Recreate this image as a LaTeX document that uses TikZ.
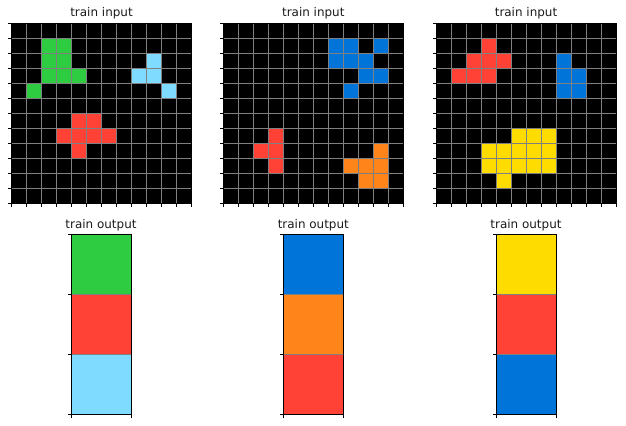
\documentclass[tikz,border=0pt]{standalone}
\usepackage{fontspec}
\setmainfont{DejaVu Sans}
\definecolor{arcblack}{HTML}{000000}
\definecolor{arcblue}{HTML}{0074D9}
\definecolor{arcred}{HTML}{FF4136}
\definecolor{arcgreen}{HTML}{2ECC40}
\definecolor{arcyellow}{HTML}{FFDC00}
\definecolor{arcorange}{HTML}{FF851B}
\definecolor{arcsky}{HTML}{7FDBFF}
\definecolor{gridgray}{HTML}{808080}
\begin{document}
\begin{tikzpicture}[x=1bp, y=-1bp,
            gridline/.style = {draw=gridgray, line width=0.8bp},
            frame/.style = {draw=black, line width=0.8bp},
            tickmark/.style = {draw=black, line width=0.6bp},
            title/.style = {anchor=base, inner sep=0pt, font=\fontsize{12}{14}\selectfont, text=black!90}]

    \useasboundingbox (0,0) rectangle (626,425);

    % the three input grids
    \foreach \ox/\k in {11.5/1, 223.3/2, 436/3} {
        \fill[arcblack] (\ox,23.5) rectangle ++(180,180);
        \node[title] (in\k) at (\ox+90,16.6) {train input};
    }

    % coloured cells, column/row/colour
    \foreach \c/\r/\col in {2/1/arcgreen, 3/1/arcgreen, 2/2/arcgreen, 3/2/arcgreen,
            2/3/arcgreen, 3/3/arcgreen, 4/3/arcgreen, 1/4/arcgreen,
            9/2/arcsky, 8/3/arcsky, 9/3/arcsky, 10/4/arcsky,
            4/6/arcred, 5/6/arcred, 3/7/arcred, 4/7/arcred, 5/7/arcred, 6/7/arcred, 4/8/arcred}
        \fill[\col] (11.5+15*\c,23.5+15*\r) rectangle ++(15,15);

    \foreach \c/\r/\col in {7/1/arcblue, 8/1/arcblue, 10/1/arcblue, 7/2/arcblue, 8/2/arcblue,
            9/2/arcblue, 9/3/arcblue, 10/3/arcblue, 8/4/arcblue,
            3/7/arcred, 2/8/arcred, 3/8/arcred, 3/9/arcred,
            10/8/arcorange, 8/9/arcorange, 9/9/arcorange, 10/9/arcorange, 9/10/arcorange, 10/10/arcorange}
        \fill[\col] (223.3+15*\c,23.5+15*\r) rectangle ++(15,15);

    \foreach \c/\r/\col in {3/1/arcred, 2/2/arcred, 3/2/arcred, 4/2/arcred,
            1/3/arcred, 2/3/arcred, 3/3/arcred,
            8/2/arcblue, 8/3/arcblue, 9/3/arcblue, 8/4/arcblue, 9/4/arcblue,
            5/7/arcyellow, 6/7/arcyellow, 7/7/arcyellow,
            3/8/arcyellow, 4/8/arcyellow, 5/8/arcyellow, 6/8/arcyellow, 7/8/arcyellow,
            3/9/arcyellow, 4/9/arcyellow, 5/9/arcyellow, 6/9/arcyellow, 7/9/arcyellow, 4/10/arcyellow}
        \fill[\col] (436+15*\c,23.5+15*\r) rectangle ++(15,15);

    % grid lines and ticks
    \foreach \ox in {11.5, 223.3, 436} {
        \foreach \i in {0,...,12} {
            \draw[gridline] (\ox+15*\i,23.5) -- ++(0,180);
            \draw[gridline] (\ox,23.5+15*\i) -- ++(180,0);
            \draw[tickmark] (\ox,23.5+15*\i) -- ++(-3.5,0);
            \draw[tickmark] (\ox+15*\i,203.5) -- ++(0,3.5);
        }
        \draw[frame] (\ox,23.5) rectangle ++(180,180);
    }

    % the three output columns
    \foreach \ox/\k/\ca/\cb/\cc in {71/1/arcgreen/arcred/arcsky,
            283.3/2/arcblue/arcorange/arcred, 496/3/arcyellow/arcred/arcblue} {
        \fill[\ca] (\ox,234.3) rectangle ++(60,60);
        \fill[\cb] (\ox,294.3) rectangle ++(60,60);
        \fill[\cc] (\ox,354.3) rectangle ++(60,60);
        \draw[gridline] (\ox,294.3) -- ++(60,0);
        \draw[gridline] (\ox,354.3) -- ++(60,0);
        \draw[frame] (\ox,234.3) rectangle ++(60,180);
        \foreach \i in {0,...,3}
            \draw[tickmark] (\ox,234.3+60*\i) -- ++(-3.5,0);
        \draw[tickmark] (\ox,414.3) -- ++(0,3.5);
        \draw[tickmark] (\ox+60,414.3) -- ++(0,3.5);
        \node[title] (out\k) at (\ox+30,228.3) {train output};
    }
\end{tikzpicture}
\end{document}
